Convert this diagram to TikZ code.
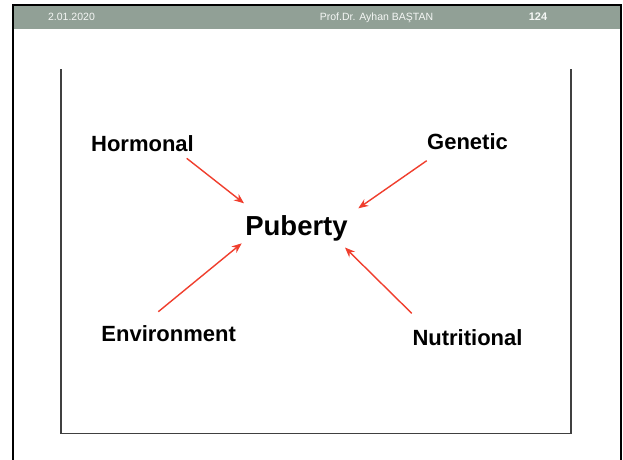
\documentclass[tikz,border=0pt]{standalone}
\usepackage{fontspec}
\setmainfont{Liberation Sans}
\usetikzlibrary{arrows.meta}
\definecolor{barGray}{RGB}{145,160,150}
\definecolor{arrRed}{RGB}{240,62,45}
\definecolor{hdrText}{RGB}{245,247,245}
\tikzset{
  lbl/.style={font=\fontsize{22}{24}\selectfont\bfseries, text=black, anchor=base, inner sep=0pt},
  hdr/.style={font=\fontsize{10.5}{12}\selectfont, text=hdrText, anchor=base, inner sep=0pt},
  redarrow/.style={draw=arrRed, line width=1.4pt, -{Stealth[length=10pt,width=8pt]}},
  innerline/.style={draw=black!75, line width=1.8pt}
}
\begin{document}
\begin{tikzpicture}[x=1pt,y=-1pt]
\useasboundingbox (0,0) rectangle (623,459);
\fill[white] (0,0) rectangle (623,459);
% header bar
\fill[barGray] (13,5) rectangle (621,29);
\draw[black, line width=2.2pt] (13,462) -- (13,5) -- (621,5) -- (621,462);
\node[hdr] (date) at (71.5,20) {2.01.2020};
\node[hdr] (author) at (376.5,20) {Prof.Dr. Ayhan BAŞTAN};
\node[hdr, font=\fontsize{11}{12}\selectfont\bfseries] (page) at (538,20.5) {124};
% inner box
\draw[innerline] (61,69) -- (61,433.5) -- (571,433.5) -- (571,69);
% labels
\node[lbl] (hormonal) at (142.5,151) {Hormonal};
\node[lbl] (genetic) at (467.5,149) {Genetic};
\node[lbl, font=\fontsize{27.5}{30}\selectfont\bfseries] (puberty) at (296.5,235) {Puberty};
\node[lbl] (environment) at (168.7,341.5) {Environment};
\node[lbl] (nutritional) at (467.5,345) {Nutritional};
% arrow end points
\coordinate (hs) at (186.7,158.3);
\coordinate (he) at (244,203.3);
\coordinate (gs) at (426.7,160.7);
\coordinate (ge) at (358.3,208.3);
\coordinate (es) at (158.3,311.7);
\coordinate (ee) at (241.7,243.3);
\coordinate (ns) at (411.7,313.3);
\coordinate (ne) at (345,247.5);
\draw[redarrow] (hs) -- (he);
\draw[redarrow] (gs) -- (ge);
\draw[redarrow] (es) -- (ee);
\draw[redarrow] (ns) -- (ne);
\end{tikzpicture}
\end{document}
